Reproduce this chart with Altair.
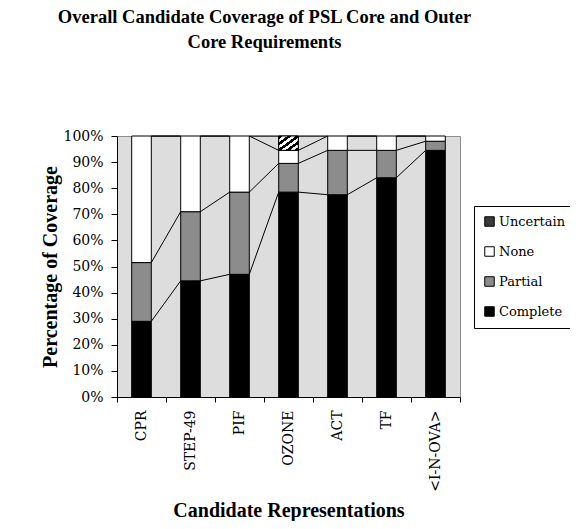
import altair as alt
import pandas as pd

# ---- data (percent of requirements) ----
cats = ["CPR", "STEP-49", "PIF", "OZONE", "ACT", "TF", "<I-N-OVA>"]
complete = [29, 44.5, 47, 78.5, 77.5, 84, 94.5]
partial = [22.5, 26.5, 31.5, 11, 17, 10.5, 3.5]
none_ = [48.5, 29, 21.5, 5, 5.5, 5.5, 2]
uncertain = [0, 0, 0, 5.5, 0, 0, 0]

series = ["Complete", "Partial", "None", "Uncertain"]
legend_order = ["Uncertain", "None", "Partial", "Complete"]
legend_colors = ["#3a3a3a", "#ffffff", "#8c8c8c", "#000000"]

BAR_FRAC = 0.4

values = {"Complete": complete, "Partial": partial, "None": none_, "Uncertain": uncertain}

rows = []
tops = {s: [] for s in series}
for i, c in enumerate(cats):
    cum = 0.0
    for s in series:
        v = values[s][i]
        rows.append({"cat": c, "series": s, "y0": cum, "y1": cum + v, "v": v})
        cum += v
        tops[s].append(cum)
df = pd.DataFrame(rows)

lrows = []
for s in series:
    for i in range(len(cats) - 1):
        lrows.append({
            "series": s,
            "x0": i + 0.5 + BAR_FRAC / 2,
            "x1": i + 1.5 - BAR_FRAC / 2,
            "ya": tops[s][i],
            "yb": tops[s][i + 1],
        })
ldf = pd.DataFrame(lrows)

SERIF = "DejaVu Serif"
TSERIF = "Liberation Serif"

x_enc = alt.X(
    "cat:N",
    sort=cats,
    scale=alt.Scale(paddingInner=0, paddingOuter=0),
    axis=alt.Axis(
        title="Candidate Representations",
        tickBand="extent",
        labelAngle=-90,
        labelFont=SERIF,
        labelFontSize=14,
        labelPadding=8,
        tickSize=5,
        titleFont=TSERIF,
        titleFontSize=20,
        titleFontWeight="bold",
        titlePadding=9,
    ),
)
y_axis = alt.Axis(
    title="Percentage of Coverage",
    values=list(range(0, 101, 10)),
    labelExpr="datum.value + '%'",
    labelFont=SERIF,
    labelFontSize=14,
    labelPadding=8,
    tickSize=6,
    titleFont=TSERIF,
    titleFontSize=20,
    titleFontWeight="bold",
    titlePadding=2,
)
y_scale = alt.Scale(domain=[0, 100], nice=False)

base = alt.Chart(df).transform_filter("datum.v > 0")

bars = base.mark_bar(
    width=alt.RelativeBandSize(BAR_FRAC), stroke="black", strokeWidth=1
).encode(
    x=x_enc,
    y=alt.Y("y0:Q", scale=y_scale, axis=y_axis),
    y2="y1:Q",
    color=alt.Color(
        "series:N",
        scale=alt.Scale(domain=legend_order, range=legend_colors),
        legend=alt.Legend(title=None),
    ),
)

stripes = []
n = 9
for k in range(n):
    col = "black" if k % 2 == 0 else "white"
    stripes.append(alt.GradientStop(color=col, offset=k / n))
    stripes.append(alt.GradientStop(color=col, offset=(k + 1) / n))

unc = base.transform_filter("datum.series == 'Uncertain'").mark_bar(
    width=alt.RelativeBandSize(BAR_FRAC),
    stroke="black",
    strokeWidth=1,
    fill=alt.LinearGradient(gradient="linear", stops=stripes, x1=0, y1=0, x2=1, y2=1),
).encode(
    x=x_enc,
    y=alt.Y("y0:Q", scale=y_scale, axis=y_axis),
    y2="y1:Q",
)

lines = alt.Chart(ldf).mark_rule(color="black", strokeWidth=1).encode(
    x=alt.X("x0:Q", scale=alt.Scale(domain=[0, len(cats)], nice=False, zero=False), axis=None),
    x2="x1:Q",
    y=alt.Y("ya:Q", scale=y_scale, axis=y_axis),
    y2="yb:Q",
)

chart = (
    alt.layer(alt.layer(bars, unc), lines)
    .resolve_scale(x="independent")
    .properties(
        width=343,
        height=261,
        autosize="none",
        padding={"left": 109, "top": 128, "right": 110, "bottom": 124},
        title=alt.Title(
            ["Overall Candidate Coverage of PSL Core and Outer", "Core Requirements"],
            font=TSERIF,
            fontSize=18.5,
            fontWeight="bold",
            color="black",
            anchor="middle",
            offset=78,
            dx=-24,
            lineHeight=25,
        ),
    )
    .configure_view(fill="#dddddd", stroke="#8c8c8c", strokeWidth=1)
    .configure_axis(
        domainColor="black",
        tickColor="black",
        labelColor="black",
        titleColor="black",
        grid=False,
    )
    .configure_legend(
        orient="none",
        legendX=357,
        legendY=70,
        strokeColor="black",
        fillColor="white",
        padding=9,
        labelFont=SERIF,
        labelFontSize=13,
        labelColor="black",
        symbolType="square",
        symbolSize=90,
        symbolStrokeColor="black",
        symbolStrokeWidth=1,
        rowPadding=15,
        labelOffset=3,
    )
)

chart.save("out.html", embed_options={"renderer": "svg", "actions": False})
